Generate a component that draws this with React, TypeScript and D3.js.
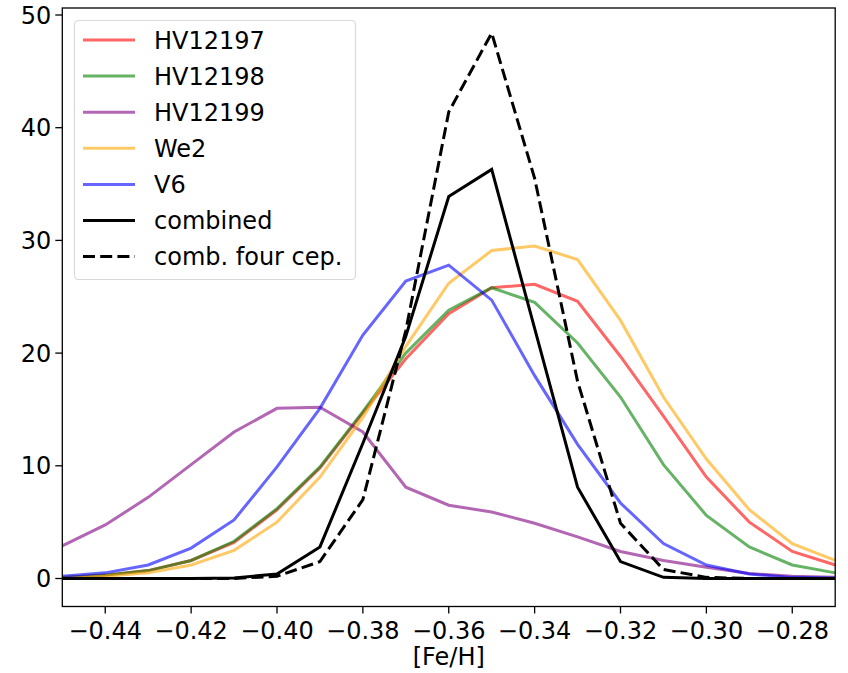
import React from "react";
import * as d3 from "d3";

const feh = [-0.45, -0.44, -0.43, -0.42, -0.41, -0.40, -0.39, -0.38, -0.37, -0.36, -0.35, -0.34, -0.33, -0.32, -0.31, -0.30, -0.29, -0.28, -0.27];
const hv12197 = [0.1, 0.3, 0.7, 1.6, 3.2, 6.1, 9.8, 14.7, 19.5, 23.5, 25.8, 26.1, 24.6, 19.7, 14.4, 9.0, 5.0, 2.4, 1.2];
const hv12198 = [0.1, 0.3, 0.7, 1.6, 3.3, 6.2, 9.9, 14.8, 20.0, 23.8, 25.8, 24.5, 20.9, 16.1, 10.1, 5.6, 2.8, 1.2, 0.5];
const hv12199 = [2.9, 4.75, 7.2, 10.1, 13.0, 15.1, 15.2, 13.0, 8.1, 6.5, 5.9, 4.9, 3.7, 2.4, 1.6, 1.0, 0.45, 0.2, 0.1];
const we2 = [0.05, 0.2, 0.5, 1.2, 2.5, 5.0, 9.0, 14.3, 20.6, 26.2, 29.1, 29.5, 28.3, 22.9, 16.1, 10.6, 6.1, 3.1, 1.6];
const v6 = [0.2, 0.5, 1.2, 2.7, 5.2, 9.9, 15.1, 21.6, 26.4, 27.8, 24.7, 18.0, 11.9, 6.7, 3.1, 1.2, 0.4, 0.1, 0.05];
const combined = [0, 0, 0, 0, 0.05, 0.4, 2.8, 12.0, 21.5, 33.9, 36.3, 22.2, 8.1, 1.5, 0.1, 0, 0, 0, 0];
const combFour = [0, 0, 0, 0, 0, 0.2, 1.5, 7.0, 22.0, 41.4, 48.4, 35.5, 17.5, 4.9, 0.8, 0.1, 0, 0, 0];

const xTicks = [-0.44, -0.42, -0.40, -0.38, -0.36, -0.34, -0.32, -0.30, -0.28];
const yTicks = [0, 10, 20, 30, 40, 50];

const series = [
  { name: "HV12197", values: hv12197, color: "#ff0000", opacity: 0.6, dash: "" },
  { name: "HV12198", values: hv12198, color: "#008000", opacity: 0.6, dash: "" },
  { name: "HV12199", values: hv12199, color: "#800080", opacity: 0.6, dash: "" },
  { name: "We2", values: we2, color: "#ffa500", opacity: 0.6, dash: "" },
  { name: "V6", values: v6, color: "#0000ff", opacity: 0.6, dash: "" },
  { name: "combined", values: combined, color: "#000000", opacity: 1, dash: "" },
  { name: "comb. four cep.", values: combFour, color: "#000000", opacity: 1, dash: "12 5.2" },
];

const W = 848, H = 673;
const L = 62.3, R = 835.2, T = 8, B = 606.5;
const FONT = "DejaVu Sans, sans-serif";
const FS = 24;

export default function App() {
  const x = d3.scaleLinear().domain([-0.45, -0.27]).range([L, R]);
  const y = d3.scaleLinear().domain([0, 50]).range([578.5, 15]);
  const line = d3.line<number>().x((_, i) => x(feh[i])).y((d) => y(d));
  const fmt = (v: number) => (v < 0 ? "\u2212" : "") + Math.abs(v).toFixed(2);

  const legX = 74.5, legY = 20.5, legW = 281, legH = 259;
  const rowY0 = 40, rowStep = 36.1;

  return (
    <svg width={W} height={H} style={{ position: "absolute", left: 0, top: 0, background: "#fff" }} fontFamily={FONT}>
      <defs>
        <clipPath id="plotclip">
          <rect x={L} y={T} width={R - L} height={B - T} />
        </clipPath>
      </defs>
      <rect x={0} y={0} width={W} height={H} fill="#fff" />
      <g clipPath="url(#plotclip)">
        {series.map((s) => (
          <path key={s.name} d={line(s.values) || ""} fill="none" stroke={s.color} strokeOpacity={s.opacity}
            strokeWidth={3} strokeDasharray={s.dash || undefined} strokeLinejoin="miter" />
        ))}
      </g>
      <rect x={L} y={T} width={R - L} height={B - T} fill="none" stroke="#000" strokeWidth={1.3} />
      {xTicks.map((t) => (
        <g key={t}>
          <line x1={x(t)} x2={x(t)} y1={B} y2={B + 7} stroke="#000" strokeWidth={1.3} />
          <text x={x(t)} y={B + 32} textAnchor="middle" fontSize={FS} fill="#000">{fmt(t)}</text>
        </g>
      ))}
      {yTicks.map((t) => (
        <g key={t}>
          <line x1={L - 7} x2={L} y1={y(t)} y2={y(t)} stroke="#000" strokeWidth={1.3} />
          <text x={L - 11} y={y(t)} dy="0.36em" textAnchor="end" fontSize={FS} fill="#000">{t}</text>
        </g>
      ))}
      <text x={(L + R) / 2} y={665} textAnchor="middle" fontSize={FS} fill="#000">[Fe/H]</text>
      <rect x={legX} y={legY} width={legW} height={legH} rx={4} ry={4} fill="#fff" fillOpacity={0.8} stroke="#d9d9d9" strokeWidth={1.2} />
      {series.map((s, i) => {
        const ry = rowY0 + i * rowStep;
        return (
          <g key={s.name}>
            <line x1={83} x2={135} y1={ry} y2={ry} stroke={s.color} strokeOpacity={s.opacity} strokeWidth={3}
              strokeDasharray={s.dash || undefined} />
            <text x={154} y={ry} dy="0.36em" fontSize={FS} fill="#000">{s.name}</text>
          </g>
        );
      })}
    </svg>
  );
}
